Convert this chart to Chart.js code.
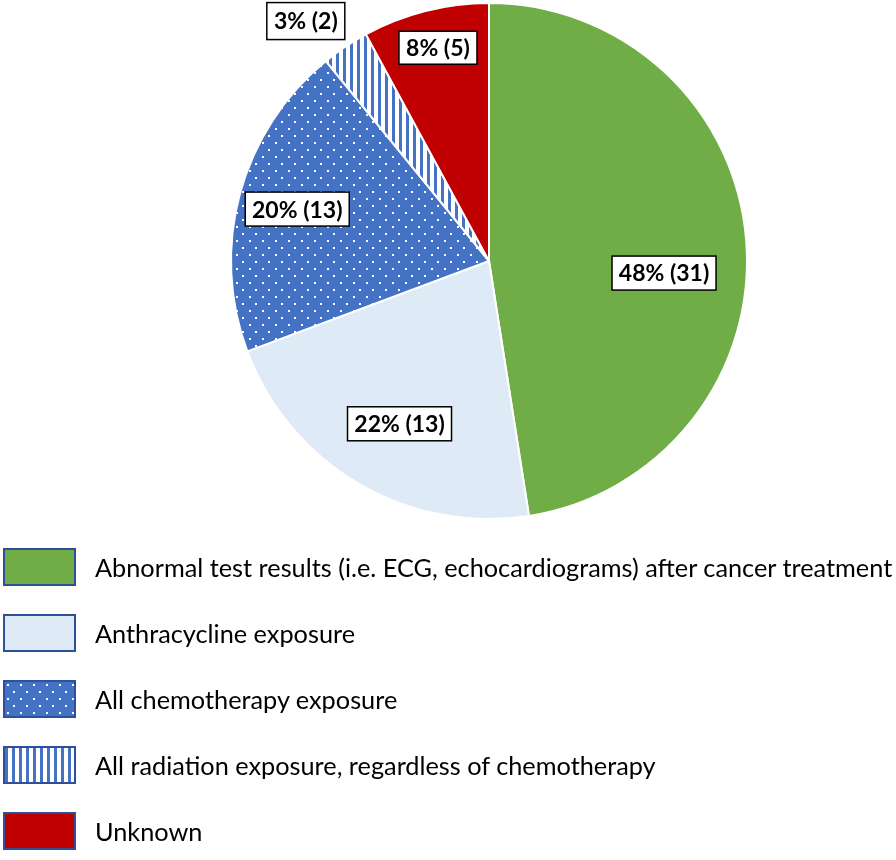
<!DOCTYPE html>
<html>
<head>
<meta charset="utf-8">
<script src="https://cdn.jsdelivr.net/npm/chart.js@4"></script>
<style>
  body { margin: 0; background: #fff; width: 896px; height: 860px; overflow: hidden; font-family: Lato, "Open Sans", sans-serif; }
  #wrap { position: absolute; left: 0; top: 0; width: 896px; height: 522px; }
  #legend { position: absolute; left: 3px; top: 548px; }
  .item { display: flex; align-items: center; height: 38px; margin-bottom: 28px; }
  .item canvas { width: 73px; height: 38px; box-sizing: border-box; border: 2px solid #2f4f9a; }
  .item span { margin-left: 19px; font-size: 25.3px; color: #000; white-space: nowrap; }
</style>
</head>
<body>
<div id="wrap"><canvas id="canvas"></canvas></div>
<div id="legend"></div>
<script>
const categories = [
  "Abnormal test results (i.e. ECG, echocardiograms) after cancer treatment",
  "Anthracycline exposure",
  "All chemotherapy exposure",
  "All radiation exposure, regardless of chemotherapy",
  "Unknown"
];
const percents = [48, 22, 20, 3, 8];
const counts = [31, 13, 13, 2, 5];

const BLUE = "#4472c4";

// fills: plain colours, dotted blue, striped blue
function makeFill(ctx, kind) {
  if (kind === "dots") {
    let c = document.createElement("canvas");
    c.width = 13; c.height = 14;
    let g = c.getContext("2d");
    g.fillStyle = BLUE; g.fillRect(0, 0, 13, 14);
    g.fillStyle = "#fff";
    g.fillRect(2, 2, 2, 2);
    g.fillRect(8, 9, 2, 2);
    return ctx.createPattern(c, "repeat");
  }
  if (kind === "stripes") {
    let c = document.createElement("canvas");
    c.width = 7; c.height = 7;
    let g = c.getContext("2d");
    g.fillStyle = "#fff"; g.fillRect(0, 0, 7, 7);
    g.fillStyle = BLUE; g.fillRect(0, 0, 3, 7);
    return ctx.createPattern(c, "repeat");
  }
  return kind;
}

const fillKinds = ["#70ad47", "#deebf7", "dots", "stripes", "#c00000"];
// where each label box sits: fraction of radius, and turn off the slice middle (degrees)
const labelRadius = [0.68, 0.72, 0.77, 1.17, 0.85];
const labelShift = [8.4, -1.5, 0, -3.5, 0.8];
const labelHeight = [34, 34, 34, 37, 33];

const labelPlugin = {
  id: "boxLabels",
  afterDatasetsDraw(chart) {
    const ctx = chart.ctx;
    const meta = chart.getDatasetMeta(0);
    ctx.save();
    meta.data.forEach((arc, i) => {
      const mid = (arc.startAngle + arc.endAngle) / 2 + labelShift[i] * Math.PI / 180;
      const r = arc.outerRadius * labelRadius[i];
      const x = arc.x + Math.cos(mid) * r;
      const y = arc.y + Math.sin(mid) * r;
      const text = percents[i] + "% (" + counts[i] + ")";
      ctx.font = "bold 23px Lato";
      const w = Math.round(ctx.measureText(text).width + 14), h = labelHeight[i];
      ctx.fillStyle = "#fff";
      ctx.fillRect(x - w / 2, y - h / 2, w, h);
      ctx.strokeStyle = "#000";
      ctx.lineWidth = 1.5;
      ctx.strokeRect(x - w / 2, y - h / 2, w, h);
      ctx.fillStyle = "#000";
      ctx.textAlign = "center";
      ctx.textBaseline = "middle";
      ctx.fillText(text, x, y + 1);
    });
    ctx.restore();
  }
};

let ctx = document.getElementById("canvas").getContext("2d");
let fills = fillKinds.map(k => makeFill(ctx, k));

let myChart = new Chart(ctx, {
  type: "pie",
  data: {
    labels: categories,
    datasets: [{
      data: percents,
      backgroundColor: fills,
      borderColor: "#fff",
      borderWidth: 2
    }]
  },
  options: {
    responsive: true,
    maintainAspectRatio: false,
    animation: false,
    layout: { padding: { left: 82, right: 0, top: 2, bottom: 2 } },
    plugins: { legend: { display: false }, tooltip: { enabled: false } }
  },
  plugins: [labelPlugin]
});

// legend built from the same arrays
let legend = document.getElementById("legend");
categories.forEach((name, i) => {
  let item = document.createElement("div");
  item.className = "item";
  let sw = document.createElement("canvas");
  sw.width = 69; sw.height = 34;
  let g = sw.getContext("2d");
  g.fillStyle = makeFill(g, fillKinds[i]);
  g.fillRect(0, 0, 69, 34);
  let label = document.createElement("span");
  label.textContent = name;
  item.appendChild(sw);
  item.appendChild(label);
  legend.appendChild(item);
});
</script>
</body>
</html>
